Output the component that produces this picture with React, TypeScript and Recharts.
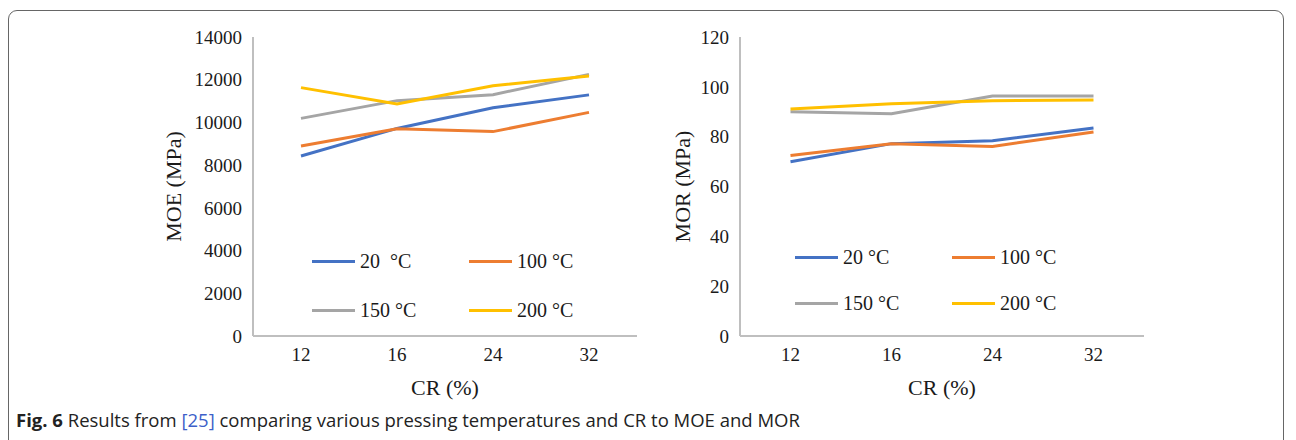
import { LineChart, Line, XAxis, YAxis, Legend } from "recharts";

const crLevels = ["12", "16", "24", "32"];

// MOE (MPa)
const moe20 = [8430, 9720, 10690, 11290];
const moe100 = [8900, 9700, 9570, 10470];
const moe150 = [10190, 11020, 11300, 12250];
const moe200 = [11630, 10860, 11720, 12170];
const moeTicks = [0, 2000, 4000, 6000, 8000, 10000, 12000, 14000];
const moeNames = ["20  °C", "100 °C", "150 °C", "200 °C"];

// MOR (MPa)
const mor20 = [69.9, 77.2, 78.4, 83.5];
const mor100 = [72.4, 77.2, 76.1, 81.9];
const mor150 = [90.0, 89.2, 96.3, 96.3];
const mor200 = [91.1, 93.2, 94.4, 94.7];
const morTicks = [0, 20, 40, 60, 80, 100, 120];
const morNames = ["20 °C", "100 °C", "150 °C", "200 °C"];

const COLORS = ["#4472C4", "#ED7D31", "#A5A5A5", "#FFC000"];
const KEYS = ["t20", "t100", "t150", "t200"];

const moeData = crLevels.map((cr, i) => ({
  cr,
  t20: moe20[i],
  t100: moe100[i],
  t150: moe150[i],
  t200: moe200[i],
}));

const morData = crLevels.map((cr, i) => ({
  cr,
  t20: mor20[i],
  t100: mor100[i],
  t150: mor150[i],
  t200: mor200[i],
}));

const SERIF = "'Liberation Serif', 'Times New Roman', serif";
const INK = "#1a1a1a";
const AXIS = "#bfbfbf";

// legend keeps series order (20, 100 / 150, 200)
const legendContent = (rowH: number) => (props: any) => {
  const items = [...(props.payload || [])].sort(
    (a: any, b: any) => KEYS.indexOf(a.dataKey) - KEYS.indexOf(b.dataKey)
  );
  return (
    <div style={{ display: "grid", gridTemplateColumns: "157px 157px", gridAutoRows: rowH }}>
      {items.map((p: any) => (
        <div key={p.dataKey} style={{ display: "flex", alignItems: "center" }}>
          <span style={{ display: "inline-block", width: 43, height: 3, background: p.color, marginRight: 5 }} />
          <span style={{ whiteSpace: "pre", fontFamily: SERIF, fontSize: 20, color: INK, lineHeight: 1 }}>
            {p.value}
          </span>
        </div>
      ))}
    </div>
  );
};

interface PanelProps {
  data: any[];
  names: string[];
  max: number;
  ticks: number[];
  yLabel: string;
  left: number;
  marginLeft: number;
  marginRight: number;
  pad: number;
  labelOffset: number;
  legendLeft: number;
  legendTop: number;
  rowH: number;
}

function Panel(p: PanelProps) {
  return (
    <div style={{ position: "absolute", left: p.left, top: 0 }}>
      <LineChart
        width={660}
        height={400}
        data={p.data}
        margin={{ top: 37, right: p.marginRight, left: p.marginLeft, bottom: 4 }}
      >
        <XAxis
          dataKey="cr"
          height={60}
          padding={{ left: p.pad, right: p.pad }}
          tickLine={false}
          axisLine={{ stroke: AXIS, strokeWidth: 2 }}
          tickMargin={6}
          tick={{ fill: INK, fontSize: 19, fontFamily: SERIF }}
          label={{
            value: "CR (%)",
            position: "insideBottom",
            offset: 1,
            style: { fill: INK, fontSize: 22, fontFamily: SERIF },
          }}
        />
        <YAxis
          width={90}
          domain={[0, p.max]}
          ticks={p.ticks}
          interval={0}
          tickLine={false}
          axisLine={{ stroke: AXIS, strokeWidth: 2 }}
          tickMargin={5}
          tick={{ fill: INK, fontSize: 19, fontFamily: SERIF }}
          label={{
            value: p.yLabel,
            angle: -90,
            position: "insideLeft",
            offset: p.labelOffset,
            style: { textAnchor: "middle", fill: INK, fontSize: 22, fontFamily: SERIF },
          }}
        />
        <Legend
          layout="horizontal"
          align="center"
          verticalAlign="middle"
          content={legendContent(p.rowH)}
          wrapperStyle={{ left: p.legendLeft, top: p.legendTop, width: 320 }}
        />
        {KEYS.map((k, i) => (
          <Line
            key={k}
            type="linear"
            dataKey={k}
            name={p.names[i]}
            stroke={COLORS[i]}
            strokeWidth={3}
            dot={false}
            activeDot={false}
            isAnimationActive={false}
          />
        ))}
      </LineChart>
    </div>
  );
}

export default function App() {
  return (
    <div style={{ position: "absolute", left: 0, top: 0, width: 1296, height: 440, background: "#fff", overflow: "hidden" }}>
      <div
        style={{
          position: "absolute",
          left: 8,
          top: 10,
          width: 1276,
          height: 440,
          border: "1px solid #666",
          borderRadius: 9,
          boxSizing: "border-box",
        }}
      />
      <Panel
        data={moeData}
        names={moeNames}
        max={14000}
        ticks={moeTicks}
        yLabel="MOE (MPa)"
        left={0}
        marginLeft={163}
        marginRight={23}
        pad={48}
        labelOffset={10}
        legendLeft={312}
        legendTop={236.5}
        rowH={49}
      />
      <Panel
        data={morData}
        names={morNames}
        max={120}
        ticks={morTicks}
        yLabel="MOR (MPa)"
        left={620}
        marginLeft={30}
        marginRight={136}
        pad={50.5}
        labelOffset={32}
        legendLeft={175}
        legendTop={234}
        rowH={46}
      />
      <div
        style={{
          position: "absolute",
          left: 16,
          top: 409,
          fontFamily: "'Open Sans', 'Noto Sans', sans-serif",
          fontSize: 18.5,
          color: "#222",
          whiteSpace: "pre",
          lineHeight: "22px",
        }}
      >
        <b>Fig. 6</b>
        {" Results from "}
        <span style={{ color: "#3d5fc9" }}>[25]</span>
        {" comparing various pressing temperatures and CR to MOE and MOR"}
      </div>
    </div>
  );
}
